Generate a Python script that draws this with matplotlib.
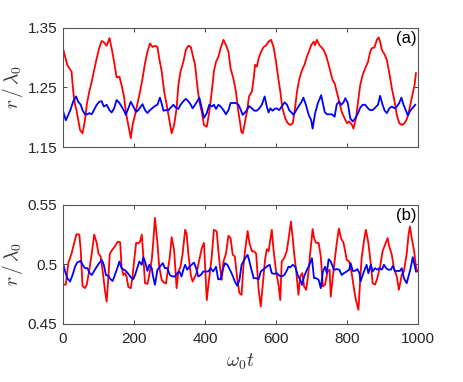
import numpy as np
import matplotlib
matplotlib.use('Agg')
import matplotlib.pyplot as plt

# panel (a): r / lambda_0 vs omega_0 t
ta_red = [0, 6, 12, 18, 24, 29, 34, 38, 43, 48, 55, 62, 67, 74, 81, 87, 95, 102, 109, 115,
          123, 131, 137, 144, 151, 159, 165, 172, 177, 184, 191, 196, 203, 209, 217, 224, 231, 238, 245, 252,
          259, 266, 271, 278, 285, 292, 300, 306, 313, 320, 325, 331, 339, 346, 353, 360, 365, 372, 378, 384,
          391, 397, 405, 412, 419, 425, 431, 438, 444, 452, 459, 466, 472, 480, 487, 494, 499,
          502, 506, 511, 518, 524, 532, 537, 541, 546, 551, 558, 565, 571, 579, 586, 593, 600, 605, 612,
          618, 626, 633, 640, 647, 652, 659, 665, 673, 680, 687, 693, 699, 706, 710, 715, 722, 727, 734, 740,
          746, 753, 759, 765, 771, 778, 785, 793, 800, 806, 814, 818, 825, 831, 837, 844, 851, 859, 865, 870,
          877, 884, 889, 893, 898, 906, 912, 919, 926, 934, 940, 947, 955, 962, 969, 975, 983, 990, 994]
ra_red = [1.316, 1.302, 1.288, 1.282, 1.277, 1.243, 1.221, 1.212, 1.196, 1.179, 1.173, 1.195, 1.221, 1.243, 1.260, 1.277, 1.299, 1.316, 1.328, 1.326,
          1.320, 1.333, 1.316, 1.293, 1.267, 1.268, 1.254, 1.235, 1.209, 1.187, 1.165, 1.187, 1.204, 1.221, 1.243, 1.265, 1.291, 1.310, 1.324, 1.318,
          1.320, 1.318, 1.299, 1.277, 1.243, 1.221, 1.193, 1.173, 1.187, 1.215, 1.254, 1.277, 1.293, 1.313, 1.320, 1.318, 1.305, 1.288, 1.254, 1.226,
          1.209, 1.187, 1.184, 1.209, 1.243, 1.277, 1.293, 1.302, 1.316, 1.330, 1.321, 1.310, 1.282, 1.265, 1.243, 1.209, 1.190,
          1.176, 1.173, 1.187, 1.209, 1.235, 1.243, 1.265, 1.288, 1.285, 1.299, 1.310, 1.318, 1.320, 1.327, 1.330, 1.318, 1.293, 1.271, 1.243,
          1.215, 1.198, 1.190, 1.187, 1.190, 1.209, 1.243, 1.263, 1.279, 1.288, 1.302, 1.311, 1.321, 1.327, 1.321, 1.330, 1.321, 1.318, 1.313, 1.305,
          1.293, 1.277, 1.263, 1.257, 1.243, 1.226, 1.209, 1.198, 1.190, 1.193, 1.187, 1.181, 1.198, 1.226, 1.254, 1.271, 1.282, 1.293, 1.310, 1.316,
          1.317, 1.330, 1.334, 1.327, 1.313, 1.305, 1.296, 1.274, 1.249, 1.226, 1.204, 1.190, 1.187, 1.190, 1.198, 1.212, 1.235, 1.254, 1.274]

ta_blue = [0, 8, 15, 22, 29, 37, 43, 50, 55, 62, 69, 74, 81, 87, 95, 102, 109, 115, 123, 131,
           137, 144, 151, 159, 165, 172, 177, 184, 191, 198, 206, 212, 219, 224, 231, 238, 245, 253, 259, 266,
           273, 278, 283, 290, 297, 303, 311, 318, 325, 331, 339, 346, 353, 360, 365, 372, 378, 384, 391, 397,
           405, 412, 419, 425, 431, 438, 444, 452, 459, 466, 472, 480, 487, 494,
           499, 506, 511, 518, 524, 532, 539, 546, 553, 560, 568, 574, 579, 584, 590, 596, 602, 609, 616, 624,
           631, 637, 645, 649, 656, 663, 671, 677, 684, 692, 699, 703, 710, 718, 727, 731, 737, 743, 750, 757,
           765, 771, 778, 784, 790, 795, 802, 809, 816, 823, 831, 837, 844, 851, 859, 865, 872, 879, 887, 893,
           900, 906, 912, 919, 926, 934, 940, 947, 953, 959, 966, 971, 978, 985, 992]
ra_blue = [1.211, 1.195, 1.204, 1.214, 1.227, 1.235, 1.226, 1.221, 1.212, 1.205, 1.205, 1.207, 1.205, 1.212, 1.221, 1.226, 1.227, 1.218, 1.221, 1.212,
           1.208, 1.215, 1.229, 1.224, 1.218, 1.211, 1.204, 1.215, 1.226, 1.218, 1.209, 1.212, 1.218, 1.222, 1.212, 1.207, 1.212, 1.216, 1.219, 1.221,
           1.233, 1.223, 1.211, 1.212, 1.212, 1.216, 1.221, 1.216, 1.214, 1.221, 1.227, 1.231, 1.227, 1.221, 1.215, 1.221, 1.227, 1.233, 1.215, 1.199,
           1.207, 1.221, 1.218, 1.221, 1.214, 1.221, 1.218, 1.212, 1.205, 1.212, 1.224, 1.224, 1.224, 1.221,
           1.215, 1.204, 1.207, 1.212, 1.219, 1.215, 1.211, 1.211, 1.215, 1.221, 1.235, 1.218, 1.208, 1.215, 1.211, 1.214, 1.215, 1.212, 1.218, 1.225,
           1.221, 1.212, 1.207, 1.204, 1.211, 1.218, 1.225, 1.233, 1.221, 1.204, 1.195, 1.181, 1.207, 1.224, 1.237, 1.226, 1.209, 1.205, 1.205, 1.205,
           1.201, 1.222, 1.226, 1.221, 1.225, 1.232, 1.224, 1.198, 1.193, 1.198, 1.207, 1.216, 1.221, 1.221, 1.215, 1.212, 1.212, 1.216, 1.221, 1.236,
           1.221, 1.211, 1.207, 1.215, 1.218, 1.215, 1.218, 1.224, 1.233, 1.221, 1.211, 1.203, 1.211, 1.216, 1.221]

# panel (b)
tb_red = [0, 8, 15, 24, 34, 38, 46, 50, 55, 62, 67, 74, 81, 88, 95, 100, 106, 112, 118, 123,
          128, 132, 140, 146, 154, 161, 165, 170, 175, 179, 184, 191, 196, 200, 206, 212, 217, 222, 226, 231,
          238, 243, 250, 254,
          259, 266, 271, 278, 284, 290, 297, 301, 306, 313, 320, 325, 331, 337, 344, 348, 353, 360, 365, 372,
          376, 384, 391, 397, 405, 409, 414, 419, 425, 433, 437, 442, 447, 452, 459, 466, 472, 478, 484, 491,
          497, 503,
          508, 513, 520, 525, 532, 538, 544, 551, 557, 563, 569, 574, 579, 588, 593, 600, 607, 612, 616, 623,
          630, 635, 642, 647, 651, 657, 663, 668, 674, 679, 685, 691, 696, 703, 707, 713, 720, 726, 732, 738,
          745, 751, 754,
          763, 771, 777, 783, 790, 794, 799, 806, 813, 820, 825, 832, 837, 841, 848, 853, 860, 867, 872, 879,
          885, 893, 900, 907, 914, 919, 926, 932, 940, 946, 954, 960, 968, 973, 977, 982, 989, 994, 998]
rb_red = [0.483, 0.483, 0.501, 0.509, 0.5206, 0.5253, 0.525, 0.512, 0.482, 0.480, 0.483, 0.495, 0.509, 0.525, 0.518, 0.509, 0.5066, 0.494, 0.4786, 0.4688,
          0.4898, 0.509, 0.5127, 0.515, 0.519, 0.5186, 0.498, 0.491, 0.4926, 0.4898, 0.481, 0.480, 0.4898, 0.502, 0.518, 0.5176, 0.519, 0.525, 0.508, 0.4842,
          0.4836, 0.491, 0.5038, 0.5178,
          0.539, 0.518, 0.498, 0.487, 0.4847, 0.484, 0.498, 0.5066, 0.5228, 0.512, 0.480, 0.494, 0.498, 0.509, 0.529, 0.526, 0.509, 0.491, 0.4856, 0.4898,
          0.4926, 0.5038, 0.5136, 0.518, 0.470, 0.4814, 0.494, 0.5066, 0.529, 0.5276, 0.5136, 0.498, 0.487, 0.5024, 0.509, 0.524, 0.522, 0.508, 0.5066, 0.487,
          0.4758, 0.4744,
          0.498, 0.512, 0.528, 0.518, 0.511, 0.511, 0.509, 0.4786, 0.4646, 0.484, 0.5038, 0.5127, 0.511, 0.529, 0.512, 0.494, 0.4828, 0.470, 0.5024, 0.5052,
          0.511, 0.5206, 0.536, 0.522, 0.509, 0.494, 0.4744, 0.4898, 0.4926, 0.4814, 0.4786, 0.4926, 0.509, 0.5296, 0.522, 0.518, 0.518, 0.5066, 0.4814, 0.483,
          0.494, 0.4955, 0.473,
          0.498, 0.518, 0.530, 0.522, 0.518, 0.512, 0.5038, 0.5024, 0.4926, 0.4786, 0.470, 0.4618, 0.487, 0.5052, 0.5206, 0.529, 0.518, 0.4996, 0.4842, 0.483,
          0.4884, 0.498, 0.511, 0.5164, 0.522, 0.515, 0.508, 0.4968, 0.4898, 0.4786, 0.4912, 0.494, 0.509, 0.5248, 0.5318, 0.522, 0.511, 0.498, 0.494]

tb_blue = [0, 6, 12, 20, 27, 34, 40, 50, 55, 62, 69, 74, 81, 87, 95, 102, 109, 115, 121, 128,
           134, 140, 146, 153, 159, 165, 172, 177, 184, 191, 198, 203, 209, 215, 222, 226, 231, 238, 243, 250,
           253, 259, 266, 273, 281, 287, 294, 301, 309, 315, 322, 328, 334, 339, 344, 350, 356, 362, 369, 375,
           381, 388, 395, 403, 409, 416, 423, 431, 437, 444, 450, 456, 463, 470, 478, 484, 491, 497, 503,
           513, 520, 525, 532, 537, 544, 551, 557, 563, 569, 576, 582, 588, 595, 602, 610, 616, 623, 630, 635,
           640, 647, 654, 661, 668, 673, 679, 687, 694, 701, 707, 713, 720, 726, 732, 738, 743, 748, 754,
           763, 771, 778, 785, 791, 799, 806, 810, 816, 822, 829, 835, 838, 844, 851, 855, 860, 867, 872, 879,
           885, 891, 898, 904, 910, 916, 923, 929, 935, 942, 949, 954, 960, 968, 973, 979, 985, 989, 994]
rb_blue = [0.501, 0.494, 0.4884, 0.4856, 0.491, 0.498, 0.5015, 0.503, 0.4996, 0.4968, 0.4968, 0.4931, 0.491, 0.494, 0.498, 0.501, 0.5038, 0.4996, 0.491, 0.4904,
           0.4875, 0.486, 0.491, 0.4968, 0.5024, 0.4968, 0.4954, 0.4945, 0.492, 0.4892, 0.4875, 0.491, 0.4968, 0.5024, 0.4996, 0.506, 0.5024, 0.4945, 0.4996, 0.4968,
           0.491, 0.4828, 0.4954, 0.498, 0.501, 0.4968, 0.4968, 0.491, 0.4898, 0.4898, 0.4926, 0.494, 0.4898, 0.4955, 0.4996, 0.4955, 0.498, 0.4996, 0.5015, 0.4968,
           0.4898, 0.491, 0.494, 0.494, 0.494, 0.4968, 0.494, 0.498, 0.4875, 0.4875, 0.4955, 0.501, 0.4996, 0.4955, 0.4904, 0.4856, 0.482, 0.487, 0.4996,
           0.5052, 0.508, 0.5024, 0.494, 0.4884, 0.4884, 0.4875, 0.494, 0.4955, 0.4968, 0.4987, 0.4996, 0.4926, 0.492, 0.4926, 0.4904, 0.4898, 0.491, 0.4945, 0.498,
           0.4975, 0.4996, 0.498, 0.491, 0.487, 0.4828, 0.4898, 0.4955, 0.4996, 0.5052, 0.4884, 0.4884, 0.487, 0.480, 0.494, 0.498, 0.4926, 0.5043, 0.5024,
           0.4955, 0.496, 0.4955, 0.491, 0.4926, 0.494, 0.4955, 0.501, 0.4945, 0.4945, 0.496, 0.4926, 0.4856, 0.491, 0.4968, 0.4996, 0.4926, 0.4996, 0.494, 0.4968,
           0.4955, 0.4968, 0.4955, 0.4996, 0.4968, 0.4955, 0.4955, 0.4987, 0.494, 0.4945, 0.4945, 0.4968, 0.4884, 0.4842, 0.4898, 0.4968, 0.506, 0.501, 0.494]

plt.rcParams['mathtext.fontset'] = 'cm'
plt.rcParams['font.family'] = 'Liberation Sans'

fig = plt.figure(figsize=(4.63, 3.82), dpi=100)
ax1 = fig.add_axes([0.136, 0.615, 0.767, 0.312])
ax2 = fig.add_axes([0.136, 0.152, 0.767, 0.312])

panels = [
    (ax1, ta_red, ra_red, ta_blue, ra_blue, (1.15, 1.35), [1.15, 1.25, 1.35], ['1.15', '1.25', '1.35'], '(a)'),
    (ax2, tb_red, rb_red, tb_blue, rb_blue, (0.45, 0.55), [0.45, 0.5, 0.55], ['0.45', '0.5', '0.55'], '(b)'),
]

for ax, tr, rr, tbl, rbl, ylim, yt, ytl, lab in panels:
    ax.plot(tr, rr, color='#ff0000', lw=1.3)
    ax.plot(tbl, rbl, color='#0000ff', lw=1.3)
    ax.set_xlim(0, 1000)
    ax.set_ylim(*ylim)
    ax.set_yticks(yt)
    ax.set_yticklabels(ytl)
    ax.set_xticks([0, 200, 400, 600, 800, 1000])
    ax.tick_params(direction='in', top=True, right=True, length=3, width=0.6,
                   labelsize=11, colors='#262626', pad=4)
    ax.tick_params(axis='x', pad=6)
    for s in ax.spines.values():
        s.set_color('#555555')
        s.set_linewidth(0.8)
    ax.set_ylabel(r'$r\,/\,\lambda_0$', fontsize=14, color='#333333', labelpad=2)
    ax.text(0.995, 0.97, lab, transform=ax.transAxes, ha='right', va='top', fontsize=12)

ax1.set_xticklabels([])
ax2.set_xlabel(r'$\omega_0 t$', fontsize=14, color='#333333', labelpad=4)

fig.savefig('out.png', dpi=100)
